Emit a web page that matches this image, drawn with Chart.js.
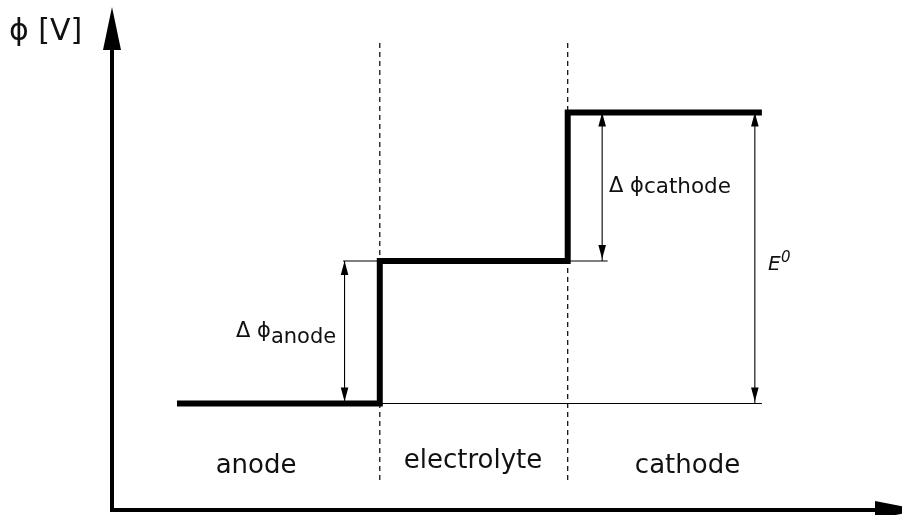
<!DOCTYPE html>
<html>
<head>
<meta charset="utf-8">
<style>
html,body{margin:0;padding:0;background:#fff;}
#wrap{width:902px;height:515px;}
</style>
<script src="https://cdn.jsdelivr.net/npm/chart.js"></script>
</head>
<body>
<div id="wrap"><canvas id="myChart"></canvas></div>
<script>
// regions of the cell, their x boundaries and potential level
const regions = ['anode', 'electrolyte', 'cathode'];
const edges = [0.83, 3.42, 5.82, 8.30];
const potentials = [2.13, 4.98, 7.95];
const yLabel = 'ϕ [V]';
const deltaNames = ['anode', 'cathode'];

// where annotations sit (axis units)
const regionLabelX = [1.84, 4.61, 7.35];
const regionLabelY = [0.74, 0.84, 0.74];
const deltaArrowX = [2.97, 6.26];
const e0ArrowX = 8.21;

const ink = '#111';
const thin = '#000';

// step profile built from the arrays
const stepData = [];
regions.forEach((r, i) => {
  stepData.push({x: edges[i], y: potentials[i]});
  stepData.push({x: edges[i + 1], y: potentials[i]});
});

function seg(x1, y1, x2, y2) { return [{x: x1, y: y1}, {x: x2, y: y2}]; }

const datasets = [
  {data: stepData, borderColor: '#000', borderWidth: 6, borderJoinStyle: 'miter', borderCapStyle: 'butt'},
  {data: seg(edges[1], 0.6, edges[1], 9.4), borderColor: '#000', borderWidth: 1.2, borderDash: [5, 4]},
  {data: seg(edges[2], 0.6, edges[2], 9.4), borderColor: '#000', borderWidth: 1.2, borderDash: [5, 4]},
  // thin helper lines
  {data: seg(2.95, potentials[1], edges[1], potentials[1]), borderColor: thin, borderWidth: 1.1},
  {data: seg(edges[2], potentials[1], 6.33, potentials[1]), borderColor: thin, borderWidth: 1.1},
  {data: seg(edges[1], potentials[0], edges[3], potentials[0]), borderColor: thin, borderWidth: 1.1},
  // double arrows
  {data: seg(deltaArrowX[0], potentials[0], deltaArrowX[0], potentials[1]), borderColor: thin, borderWidth: 1.1, arrow: true},
  {data: seg(deltaArrowX[1], potentials[1], deltaArrowX[1], potentials[2]), borderColor: thin, borderWidth: 1.1, arrow: true},
  {data: seg(e0ArrowX, potentials[0], e0ArrowX, potentials[2]), borderColor: thin, borderWidth: 1.1, arrow: true}
];
datasets.forEach(d => { d.showLine = true; d.pointRadius = 0; d.fill = false; d.clip = false; });

function drawText(ctx, txt, x, y, font, align) {
  ctx.save();
  ctx.font = font;
  ctx.textBaseline = 'alphabetic';
  ctx.textAlign = align || 'left';
  ctx.fillText(txt, x, y);
  const w = ctx.measureText(txt).width;
  ctx.restore();
  return w;
}

function head(ctx, x, y, dir, len, half) {
  // dir: +1 points down, -1 points up
  ctx.beginPath();
  ctx.moveTo(x, y);
  ctx.lineTo(x - half, y - dir * len);
  ctx.lineTo(x + half, y - dir * len);
  ctx.closePath();
  ctx.fill();
}

const diagram = {
  id: 'diagram',
  afterDatasetsDraw(chart) {
    const ctx = chart.ctx;
    const xs = chart.scales.x, ys = chart.scales.y;
    ctx.save();
    ctx.fillStyle = '#000';
    chart.data.datasets.forEach((d, i) => {
      if (!d.arrow) return;
      const pts = chart.getDatasetMeta(i).data;
      head(ctx, pts[0].x, pts[0].y - 2, 1, 14, 3.8);
      head(ctx, pts[1].x, pts[1].y, -1, 14, 3.8);
    });

    // axes with arrowheads
    const ox = xs.getPixelForValue(0), oy = ys.getPixelForValue(0);
    ctx.strokeStyle = '#000';
    ctx.fillStyle = '#000';
    ctx.lineWidth = 4;
    ctx.beginPath();
    ctx.moveTo(ox, oy + 2);
    ctx.lineTo(ox, 45);
    ctx.moveTo(ox - 2, oy);
    ctx.lineTo(880, oy);
    ctx.stroke();
    ctx.beginPath();
    ctx.moveTo(ox, 7);
    ctx.lineTo(ox - 9, 50);
    ctx.lineTo(ox + 9, 50);
    ctx.closePath();
    ctx.fill();
    ctx.beginPath();
    ctx.moveTo(921, oy);
    ctx.lineTo(875, oy - 9);
    ctx.lineTo(875, oy + 9);
    ctx.closePath();
    ctx.fill();

    // texts
    ctx.fillStyle = ink;
    drawText(ctx, yLabel, 9, 40, '30px "DejaVu Sans"');
    regions.forEach((r, i) => {
      drawText(ctx, r, xs.getPixelForValue(regionLabelX[i]), ys.getPixelForValue(regionLabelY[i]), '26px "DejaVu Sans"', 'center');
    });
    let w = drawText(ctx, 'Δ ϕ', 236, 337, '21px "DejaVu Sans"');
    drawText(ctx, deltaNames[0], 236 + w, 343, '21px "DejaVu Sans"');
    w = drawText(ctx, 'Δ ϕ', 609, 192, '21px "DejaVu Sans"');
    drawText(ctx, deltaNames[1], 609 + w, 193, '21.5px "DejaVu Sans"');
    ctx.font = 'italic 20px "DejaVu Sans"';
    ctx.fillText('E', 768, 270);
    ctx.font = 'italic 15px "DejaVu Sans"';
    ctx.fillText('0', 781, 262);
    ctx.restore();
  }
};

new Chart(document.getElementById('myChart'), {
  type: 'scatter',
  data: {datasets: datasets},
  options: {
    responsive: true,
    maintainAspectRatio: false,
    animation: false,
    layout: {padding: {left: 112, right: 7, top: 10, bottom: 5}},
    plugins: {legend: {display: false}, tooltip: {enabled: false}},
    scales: {
      x: {type: 'linear', min: 0, max: 10, display: false},
      y: {type: 'linear', min: 0, max: 10, display: false}
    }
  },
  plugins: [diagram]
});
</script>
</body>
</html>
